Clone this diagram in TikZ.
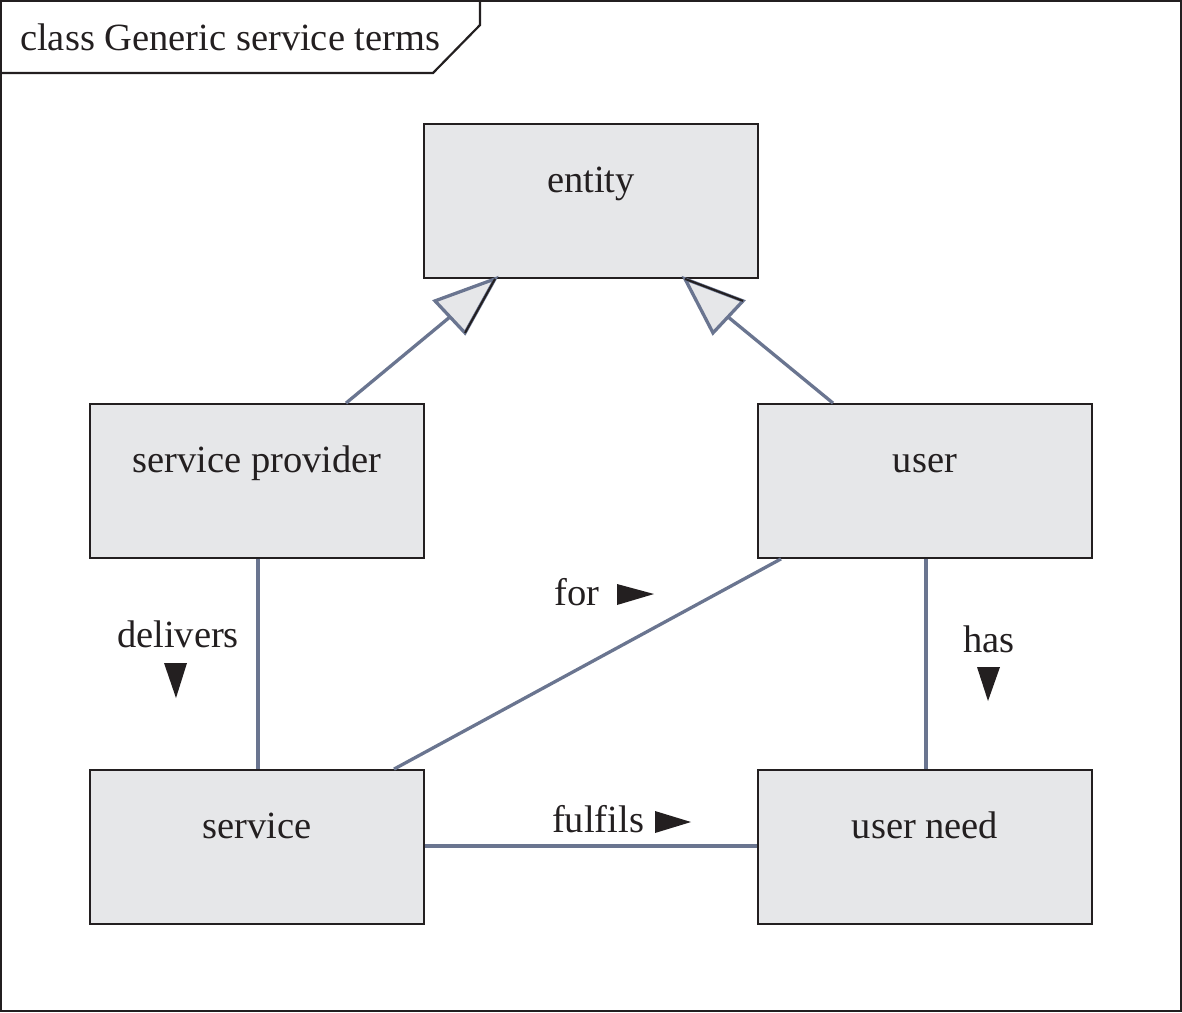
\documentclass[tikz,border=0pt]{standalone}
\usepackage{fontspec}
\setmainfont{Liberation Serif}
\usetikzlibrary{calc}
\definecolor{ink}{HTML}{231F20}
\definecolor{boxfill}{HTML}{E6E7E9}
\definecolor{slate}{HTML}{6A7590}
\begin{document}
\begin{tikzpicture}[x=1pt,y=-1pt,
  every node/.style={text=ink, font=\fontsize{38.5}{44}\selectfont},
  classbox/.style={draw=ink, fill=boxfill, line width=1.8pt, minimum width=334pt,
    inner xsep=0pt, inner ysep=0pt, text height=68pt, text depth=86pt},
  assoc/.style={draw=slate, line width=3.3pt},
  genhead/.style={draw=slate, fill=boxfill, line width=3.3pt, line join=miter},
  edgelbl/.style={anchor=base, inner sep=0pt},
  marker/.style={fill=ink}
]
\useasboundingbox (0,0) rectangle (1182,1012);
% frame
\draw[ink, line width=2.2pt] (1,1) rectangle (1181,1011);
\draw[ink, line width=2.2pt] (1,73) -- (433,73) -- (480,25) -- (480,1);
\node[anchor=base west, inner sep=0pt] (title) at (20,50) {class Generic service terms};

% classes
\node[classbox] (entity) at (591,201) {entity};
\node[classbox] (sp) at (257,481) {service provider};
\node[classbox] (user) at (925,481) {user};
\node[classbox] (service) at (257,847) {service};
\node[classbox] (need) at (925,847) {user need};

% generalizations
\coordinate (t1) at ([xshift=-96pt]entity.south);
\coordinate (t2) at ([xshift=94pt]entity.south);
\draw[assoc] ([xshift=89pt]sp.north) -- ($(t1)+(-45,38)$);
\draw[assoc] ([xshift=-92pt]user.north) -- ($(t2)+(43,38)$);
\path[genhead] (t1) -- ++(-60,22) -- ($(t1)+(-30,54)$) -- cycle;
\draw[ink, line width=2pt] (t1) -- ++(-30,54);
\path[genhead] (t2) -- ++(58,22) -- ($(t2)+(28,54)$) -- cycle;
\draw[ink, line width=2pt] (t2) -- ++(58,22);

% associations
\draw[assoc] ([xshift=1pt]sp.south) -- ([xshift=1pt]service.north);
\draw[assoc] ([xshift=1pt]user.south) -- ([xshift=1pt]need.north);
\draw[assoc] ([xshift=-144pt]user.south) -- ([xshift=137pt]service.north);
\draw[assoc] ([yshift=1pt]service.east) -- ([yshift=1pt]need.west);

% labels
\node[edgelbl] (ldeliv) at (178,647) {delivers};
\fill[marker] (164,663) -- (187,663) -- (176,698) -- cycle;
\node[edgelbl] (lhas) at (989,652) {has};
\fill[marker] (977,667) -- (1000,667) -- (988,701) -- cycle;
\node[edgelbl] (lfor) at (577,605) {for};
\fill[marker] (617,584) -- (654,594) -- (617,605) -- cycle;
\node[edgelbl] (lful) at (598,832) {fulfils};
\fill[marker] (655,811) -- (691,822) -- (655,833) -- cycle;
\end{tikzpicture}
\end{document}
